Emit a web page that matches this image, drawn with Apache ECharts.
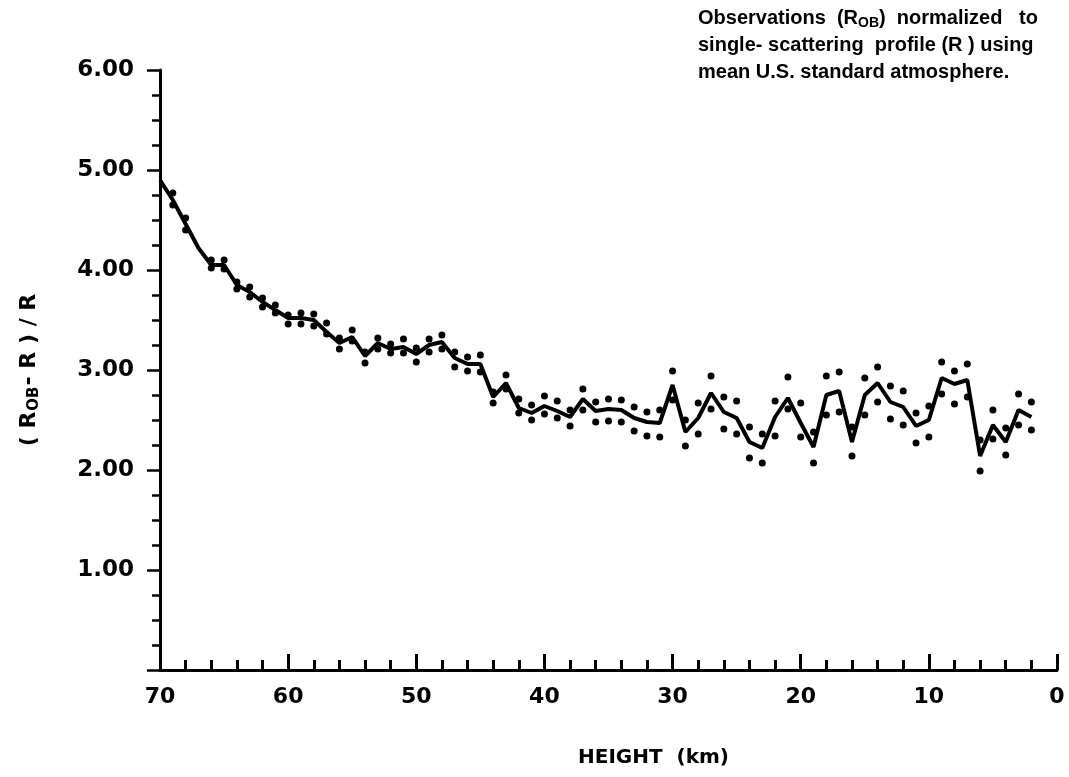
<!DOCTYPE html>
<html>
<head>
<meta charset="utf-8">
<script src="https://cdn.jsdelivr.net/npm/echarts@6/dist/echarts.min.js"></script>
<style>
  html, body { margin: 0; padding: 0; background: #fff; }
  #chart { width: 1069px; height: 777px; }
</style>
</head>
<body>
<div id="chart"></div>
<script>
// height (km), one point per km
var heights = [70, 69, 68, 67, 66, 65, 64, 63, 62, 61, 60, 59, 58, 57, 56, 55, 54, 53, 52, 51,
  50, 49, 48, 47, 46, 45, 44, 43, 42, 41, 40, 39, 38, 37, 36, 35, 34, 33, 32, 31,
  30, 29, 28, 27, 26, 25, 24, 23, 22, 21, 20, 19, 18, 17, 16, 15, 14, 13, 12, 11,
  10, 9, 8, 7, 6, 5, 4, 3, 2]
// mean profile (solid line)
var meanRatio = [4.90, 4.70, 4.46, 4.22, 4.05, 4.05, 3.85, 3.78, 3.68, 3.60, 3.52, 3.52, 3.50, 3.38, 3.27, 3.33, 3.14, 3.27, 3.21, 3.23,
  3.16, 3.25, 3.28, 3.12, 3.06, 3.06, 2.73, 2.87, 2.62, 2.57, 2.64, 2.59, 2.53, 2.71, 2.59, 2.61, 2.60, 2.52, 2.48, 2.47,
  2.85, 2.38, 2.52, 2.77, 2.58, 2.52, 2.28, 2.22, 2.53, 2.72, 2.47, 2.23, 2.75, 2.79, 2.28, 2.75, 2.87, 2.68, 2.63, 2.44,
  2.50, 2.92, 2.86, 2.90, 2.14, 2.45, 2.28, 2.60, 2.53]
// dotted envelope, upper and lower
var upperRatio = [null, 4.77, 4.52, null, 4.10, 4.10, 3.88, 3.83, 3.72, 3.65, 3.55, 3.57, 3.56, 3.47, 3.32, 3.40, 3.18, 3.32, 3.26, 3.31,
  3.22, 3.31, 3.35, 3.18, 3.13, 3.15, 2.78, 2.95, 2.71, 2.65, 2.74, 2.69, 2.60, 2.81, 2.68, 2.71, 2.70, 2.63, 2.58, 2.60,
  2.99, 2.50, 2.67, 2.94, 2.73, 2.69, 2.43, 2.36, 2.69, 2.93, 2.67, 2.38, 2.94, 2.98, 2.43, 2.92, 3.03, 2.84, 2.79, 2.57,
  2.64, 3.08, 2.99, 3.06, 2.30, 2.60, 2.42, 2.76, 2.68]
var lowerRatio = [null, 4.65, 4.40, null, 4.02, 4.01, 3.81, 3.73, 3.63, 3.57, 3.46, 3.46, 3.44, 3.36, 3.21, 3.29, 3.07, 3.21, 3.17, 3.17,
  3.08, 3.18, 3.21, 3.03, 2.99, 2.98, 2.67, 2.81, 2.57, 2.50, 2.56, 2.52, 2.44, 2.60, 2.48, 2.49, 2.48, 2.39, 2.34, 2.33,
  2.70, 2.24, 2.36, 2.61, 2.41, 2.36, 2.12, 2.07, 2.34, 2.61, 2.33, 2.07, 2.55, 2.58, 2.14, 2.55, 2.68, 2.51, 2.45, 2.27,
  2.33, 2.76, 2.66, 2.73, 1.99, 2.31, 2.15, 2.45, 2.40]

var pairs = function (ys) {
  return heights.map(function (h, i) { return [h, ys[i]] })
}

var chart = echarts.init(document.getElementById('chart'))
var option = {
  backgroundColor: '#fff',
  animation: false,
  grid: {
    left: 160,
    right: 12,
    top: 70,
    bottom: 107
  },
  xAxis: {
    type: 'value',
    inverse: true,
    min: 0,
    max: 70,
    interval: 10,
    axisLine: { onZero: false, lineStyle: { color: '#000', width: 3 } },
    axisTick: { inside: true, length: 16, lineStyle: { color: '#000', width: 3 } },
    minorTick: { show: true, splitNumber: 5, length: 10, lineStyle: { color: '#000', width: 3 } },
    splitLine: { show: false },
    axisLabel: {
      margin: 16,
      color: '#000',
      fontFamily: 'DejaVu Sans',
      fontWeight: 'bold',
      fontSize: 22
    }
  },
  yAxis: {
    type: 'value',
    position: 'left',
    min: 0,
    max: 6,
    interval: 1,
    name: '{p|( R}{s|OB}{p|- R ) / R}',
    nameLocation: 'middle',
    nameGap: 118,
    nameRotate: 90,
    nameTextStyle: {
      rich: {
        p: { fontFamily: 'DejaVu Sans', fontWeight: 'bold', fontSize: 22, color: '#000' },
        s: { fontFamily: 'DejaVu Sans', fontWeight: 'bold', fontSize: 15, color: '#000', padding: [10, 1, 0, 1] }
      }
    },
    axisLine: { show: true, onZero: false, lineStyle: { color: '#000', width: 3 } },
    axisTick: { show: true, length: 13, lineStyle: { color: '#000', width: 2.5 } },
    minorTick: { show: true, splitNumber: 4, length: 8, lineStyle: { color: '#000', width: 2.5 } },
    splitLine: { show: false },
    axisLabel: {
      margin: 26,
      color: '#000',
      fontFamily: 'DejaVu Sans',
      fontWeight: 'bold',
      fontSize: 23,
      formatter: function (v) { return v === 0 ? '' : v.toFixed(2) }
    }
  },
  graphic: [
    {
      type: 'text',
      left: 698,
      top: 7,
      style: {
        text: '{t|Observations  (R}{s|OB}{t|)  normalized   to}\n{t|single- scattering  profile (R ) using}\n{t|mean U.S. standard atmosphere.}',
        rich: {
          t: { fontFamily: 'Liberation Sans', fontWeight: 'bold', fontSize: 20, lineHeight: 27, fill: '#000' },
          s: { fontFamily: 'Liberation Sans', fontWeight: 'bold', fontSize: 14, lineHeight: 27, fill: '#000', padding: [9, 0, 0, 0] }
        }
      }
    },
    {
      type: 'text',
      left: 578,
      top: 748,
      style: {
        text: 'HEIGHT  (km)',
        fontFamily: 'DejaVu Sans',
        fontWeight: 'bold',
        fontSize: 20,
        fill: '#000'
      }
    }
  ],
  series: [
    {
      name: 'mean',
      type: 'line',
      data: pairs(meanRatio),
      symbol: 'none',
      lineStyle: { color: '#000', width: 4 },
      z: 3
    },
    {
      name: 'upper',
      type: 'scatter',
      data: pairs(upperRatio),
      symbolSize: 7,
      itemStyle: { color: '#000', opacity: 1 }
    },
    {
      name: 'lower',
      type: 'scatter',
      data: pairs(lowerRatio),
      symbolSize: 7,
      itemStyle: { color: '#000', opacity: 1 }
    }
  ]
}
chart.setOption(option)
</script>
</body>
</html>
